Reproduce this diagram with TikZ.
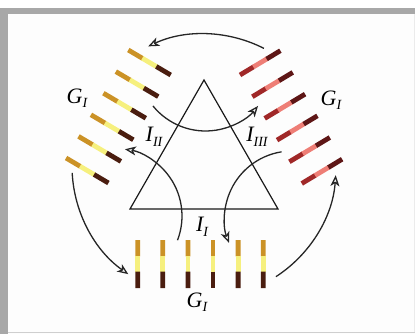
\documentclass[tikz,border=0pt]{standalone}
\usepackage{fontspec}
\setmainfont{Liberation Serif}
\usetikzlibrary{arrows.meta,calc}
\definecolor{framegray}{HTML}{A8A8A8}
\definecolor{framelight}{HTML}{CFCFCF}
\definecolor{bgoff}{HTML}{FDFDFD}
\definecolor{goldc}{HTML}{CB9226}
\definecolor{yellowc}{HTML}{F6F07E}
\definecolor{brownc}{HTML}{4A1D0F}
\definecolor{redin}{HTML}{A02828}
\definecolor{salmonc}{HTML}{EE7E76}
\definecolor{maroonc}{HTML}{5E1616}
\tikzset{
  arr/.style={line width=1.3pt, draw=black!85, -{Stealth[open,length=11pt,width=9pt,inset=3pt]}},
  tri/.style={line width=1.2pt, draw=black!90, line join=miter},
  lab/.style={inner sep=0pt, font=\fontsize{22}{26}\selectfont\itshape},
  barline/.style={line width=4.8pt, line cap=butt},
}
\newcommand{\labtxt}[2]{#1\raisebox{-4.5pt}{\fontsize{14}{16}\selectfont #2}}
\newcommand{\colbar}[5]{%
  \draw[barline,#3] (#1) -- ($(#1)!0.34!(#2)$);
  \draw[barline,#4] ($(#1)!0.33!(#2)$) -- ($(#1)!0.67!(#2)$);
  \draw[barline,#5] ($(#1)!0.66!(#2)$) -- (#2);}
\begin{document}
\begin{tikzpicture}[x=1pt,y=-1pt]
\useasboundingbox (0,0) rectangle (415,334);
\fill[white] (0,0) rectangle (415,334);
\fill[bgoff] (8,14) rectangle (415,334);
\fill[framegray] (0,8) rectangle (415,14);
\fill[framegray] (0,8) rectangle (8,334);
\draw[framelight, line width=1.2pt] (8,332.4) -- (415,332.4);
\draw[black!8, line width=0.8pt] (414.4,14) -- (414.4,332);

% triangle
\coordinate (T1) at (204,80);
\coordinate (T2) at (130,209);
\coordinate (T3) at (278,209);
\draw[tri] (T1) -- (T2) -- (T3) -- cycle;
\coordinate (C) at (204,166);

% left bars (gold outer, brown inner)
\foreach \i in {0,...,5}{
  \coordinate (ls\i) at ($(128.3,50)+\i*(-12.45,21.6)$);
  \coordinate (le\i) at ($(ls\i)+(42.4,25)$);
  \colbar{ls\i}{le\i}{goldc}{yellowc}{brownc}
}
% right bars (red inner, salmon, maroon outer)
\foreach \i in {0,...,5}{
  \coordinate (rs\i) at ($(240,75)+\i*(12.35,21.7)$);
  \coordinate (re\i) at ($(rs\i)+(40.4,-24.3)$);
  \colbar{rs\i}{re\i}{redin}{salmonc}{maroonc}
}
% bottom bars (gold top, brown bottom)
\foreach \i in {0,...,5}{
  \coordinate (bs\i) at ($(137.7,240)+\i*(25.1,0)$);
  \coordinate (be\i) at ($(bs\i)+(0,48)$);
  \colbar{bs\i}{be\i}{goldc}{yellowc}{brownc}
}

% outer arrows
\coordinate (o1) at ($(C)+(-63:132)$);
\draw[arr] (o1) arc[start angle=-63,end angle=-115,radius=132];
\coordinate (o2) at ($(C)+(-183:132)$);
\draw[arr] (o2) arc[start angle=-183,end angle=-235,radius=132];
\coordinate (o3) at ($(C)+(-303:132)$);
\draw[arr] (o3) arc[start angle=-303,end angle=-356,radius=132];

% inner arrows
\coordinate (M1) at (205.5,63.4);
\coordinate (M2) at (114.4,216);
\coordinate (M3) at (292.1,218.6);
\coordinate (i1) at ($(M1)+(-219:67.6)$);
\draw[arr] (i1) arc[start angle=-219,end angle=-321,radius=67.6];
\coordinate (i2) at ($(M2)+(-339:67.6)$);
\draw[arr] (i2) arc[start angle=-339,end angle=-441,radius=67.6];
\coordinate (i3) at ($(M3)+(-99:67.6)$);
\draw[arr] (i3) arc[start angle=-99,end angle=-201,radius=67.6];

% labels
\node[lab] (gL) at (77,98) {\labtxt{G}{I}};
\node[lab] (gR) at (331,100) {\labtxt{G}{I}};
\node[lab] (gB) at (197,302) {\labtxt{G}{I}};
\node[lab] (iII) at (154,137) {\labtxt{I}{II}};
\node[lab] (iIII) at (257,137) {\labtxt{I}{III}};
\node[lab] (iI) at (202,227) {\labtxt{I}{I}};
\end{tikzpicture}
\end{document}
